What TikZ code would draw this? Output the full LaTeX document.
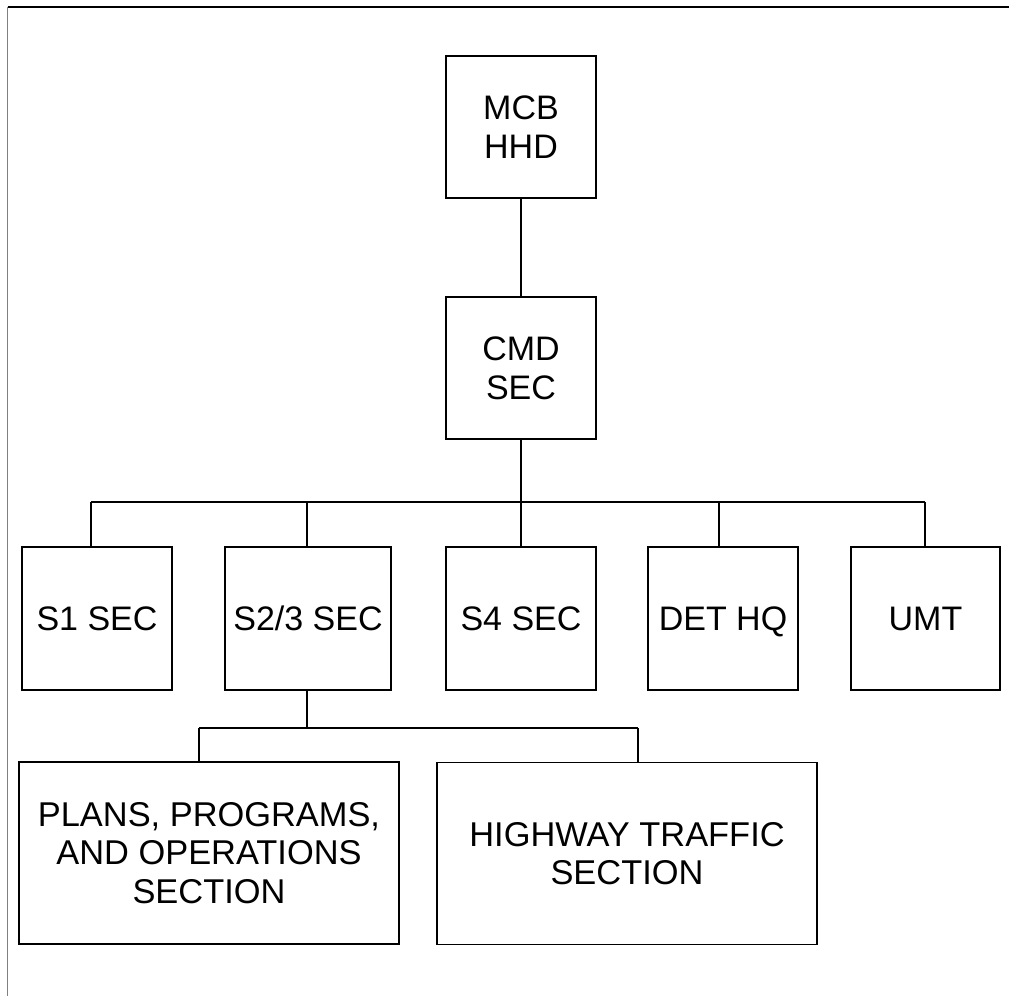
\documentclass[tikz,border=0pt]{standalone}
\usepackage{fontspec}
\setmainfont{Liberation Sans}
\begin{document}
\begin{tikzpicture}[x=1pt,y=-1pt,
  box/.style={draw, line width=1.8pt, rectangle, inner sep=0pt, align=center,
    font=\fontsize{34}{39.3}\selectfont},
  one/.style={text height=24.3pt, text depth=0pt},
  big/.style={minimum width=380pt, minimum height=182pt, font=\fontsize{34.4}{38.3}\selectfont},
  conn/.style={line width=1.4pt}]
\useasboundingbox (0,0) rectangle (1009,996);
% page frame lines
\draw[line width=1.6pt] (7.5,7) -- (1009,7);
\draw[line width=1.4pt, gray] (7.5,7) -- (7.5,996);
% nodes
\node[box, minimum width=150pt, minimum height=142pt] (mcb) at (521,127) {\raisebox{-4pt}{\parbox{150pt}{\centering MCB\\HHD}}};
\node[box, minimum width=150pt, minimum height=142pt] (cmd) at (521,368) {CMD\\SEC};
\node[box, one, minimum width=150pt, minimum height=143pt] (s1) at (97,618.5) {S1 SEC};
\node[box, one, minimum width=166pt, minimum height=143pt] (s23) at (308,618.5) {S2/3 SEC};
\node[box, one, minimum width=150pt, minimum height=143pt] (s4) at (521,618.5) {S4 SEC};
\node[box, one, minimum width=150pt, minimum height=143pt] (det) at (723,618.5) {DET HQ};
\node[box, one, minimum width=149pt, minimum height=143pt] (umt) at (925.5,618.5) {UMT};
\node[box, big] (ppo) at (209,853) {PLANS, PROGRAMS,\\AND OPERATIONS\\SECTION};
\node[box, big] (hwy) at (627,853.5) {HIGHWAY TRAFFIC\\SECTION};
% bus coordinates
\coordinate (t1) at (91,502);
\coordinate (t2) at (307,502);
\coordinate (t3) at (521,502);
\coordinate (t4) at (719,502);
\coordinate (t5) at (925,502);
\coordinate (u1) at (199,728);
\coordinate (u2) at (307,728);
\coordinate (u3) at (638,728);
% connectors
\draw[conn] (mcb.south) -- (cmd.north);
\draw[conn] (cmd.south) -- (t3);
\draw[conn] (t1) -- (t5);
\draw[conn] (t1) -- (t1 |- s1.north);
\draw[conn] (t2) -- (t2 |- s23.north);
\draw[conn] (t3) -- (t3 |- s4.north);
\draw[conn] (t4) -- (t4 |- det.north);
\draw[conn] (t5) -- (t5 |- umt.north);
\draw[conn] (u2 |- s23.south) -- (u2);
\draw[conn] (u1) -- (u3);
\draw[conn] (u1) -- (u1 |- ppo.north);
\draw[conn] (u3) -- (u3 |- hwy.north);
\end{tikzpicture}
\end{document}
